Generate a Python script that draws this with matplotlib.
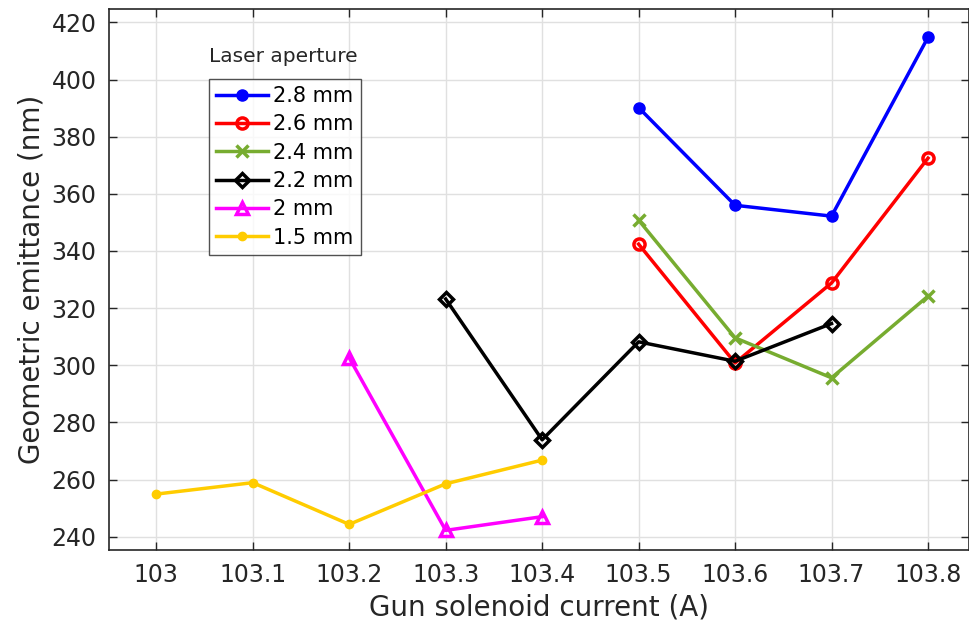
import numpy as np
import matplotlib
matplotlib.use('Agg')
import matplotlib.pyplot as plt

plt.rcParams['font.family'] = ['DejaVu Sans']

# Gun solenoid current (A) for each aperture series
x_28 = [103.5, 103.6, 103.7, 103.8]
y_28 = [390.2, 356.0, 352.2, 414.8]

x_26 = [103.5, 103.6, 103.7, 103.8]
y_26 = [342.4, 300.8, 328.8, 372.5]

x_24 = [103.5, 103.6, 103.7, 103.8]
y_24 = [350.8, 309.6, 295.6, 324.2]

x_22 = [103.3, 103.4, 103.5, 103.6, 103.7]
y_22 = [323.2, 273.9, 308.2, 301.4, 314.6]

x_20 = [103.2, 103.3, 103.4]
y_20 = [302.6, 242.2, 247.0]

x_15 = [103.0, 103.1, 103.2, 103.3, 103.4]
y_15 = [254.9, 258.9, 244.3, 258.5, 266.8]

labels = ['2.8 mm', '2.6 mm', '2.4 mm', '2.2 mm', '2 mm', '1.5 mm']
xticks = [103, 103.1, 103.2, 103.3, 103.4, 103.5, 103.6, 103.7, 103.8]
xticklabels = ['103', '103.1', '103.2', '103.3', '103.4', '103.5', '103.6', '103.7', '103.8']
yticks = [240, 260, 280, 300, 320, 340, 360, 380, 400, 420]

fig = plt.figure(figsize=(9.69, 6.24), dpi=100)
ax = fig.add_axes([0.1125, 0.118, 0.887, 0.868])

lw = 2.5
ax.plot(x_28, y_28, color='#0000ff', lw=lw, marker='o', ms=8, mfc='#0000ff', label=labels[0])
ax.plot(x_26, y_26, color='#ff0000', lw=lw, marker='o', ms=8, mfc='none', mew=2.5, label=labels[1])
ax.plot(x_24, y_24, color='#77ac30', lw=lw, marker='x', ms=8, mew=2.5, label=labels[2])
ax.plot(x_22, y_22, color='black', lw=lw, marker='D', ms=7, mfc='none', mew=2.5, label=labels[3])
ax.plot(x_20, y_20, color='#ff00ff', lw=lw, marker='^', ms=9, mfc='none', mew=2.5, label=labels[4])
ax.plot(x_15, y_15, color='#ffcc00', lw=lw, marker='o', ms=6, mfc='#ffcc00', label=labels[5])

ax.set_xlim(102.951, 103.842)
ax.set_ylim(235.2, 424.8)
ax.set_xticks(xticks)
ax.set_xticklabels(xticklabels)
ax.set_yticks(yticks)

ax.grid(True, color='#e0e0e0', lw=1)
ax.set_axisbelow(True)
ax.tick_params(direction='in', length=6, width=1, labelsize=17, colors='#262626', pad=9,
               top=True, right=True)
for s in ax.spines.values():
    s.set_color('#262626')
    s.set_linewidth(1.2)

ax.set_xlabel('Gun solenoid current (A)', fontsize=20, color='#262626', labelpad=5)
ax.set_ylabel('Geometric emittance (nm)', fontsize=20, color='#262626', labelpad=4)

leg = ax.legend(loc='upper left', bbox_to_anchor=(0.116, 0.871), borderaxespad=0,
                fontsize=15, frameon=True, fancybox=False, handlelength=2.5,
                labelspacing=0.4, borderpad=0.35, handletextpad=0.25)
leg.get_frame().set_edgecolor('#262626')
leg.get_frame().set_linewidth(1.0)
ax.text(0.116, 0.895, 'Laser aperture', transform=ax.transAxes, fontsize=14.5, color='#262626',
        ha='left', va='bottom')

fig.savefig('out.png', dpi=100)
